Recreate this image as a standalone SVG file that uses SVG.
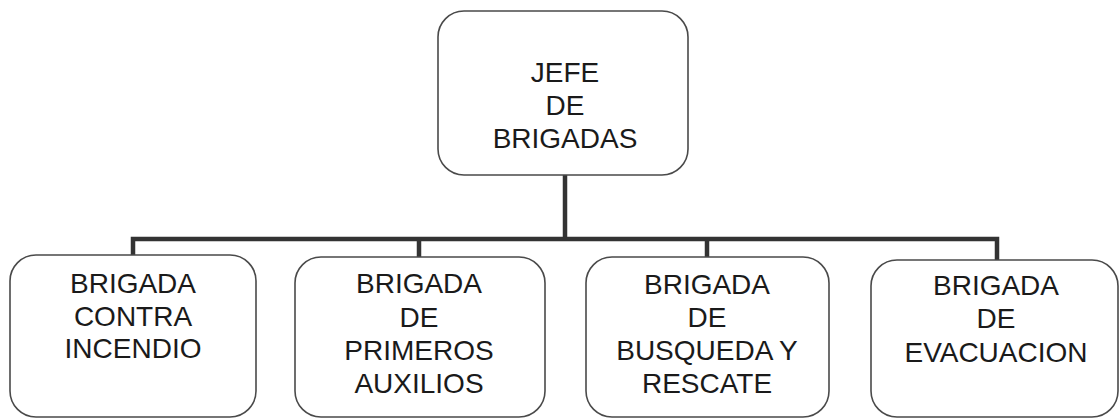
<svg xmlns="http://www.w3.org/2000/svg" width="1120" height="419" viewBox="0 0 1120 419">
<style>
.box{fill:#fff;stroke:#4a4a4a;stroke-width:1.6}
.t{font-family:"Liberation Sans",Arial,sans-serif;font-size:28px;fill:#1a1a1a;text-anchor:middle}
.c{fill:none;stroke:#333;stroke-width:4.5;stroke-linejoin:miter}
</style>
<rect width="1120" height="419" fill="#fff"/>
<g id="connectors">
<path class="c" d="M565,175 V239"/>
<path class="c" d="M133,256 V239 H997 V260"/>
<path class="c" d="M419,239 V257"/>
<path class="c" d="M707,239 V257"/>
</g>
<g id="jefe">
<rect class="box" x="438" y="11" width="250" height="164" rx="26"/>
<text class="t" x="565" y="82">JEFE</text>
<text class="t" x="565" y="115">DE</text>
<text class="t" x="565" y="148">BRIGADAS</text>
</g>
<g id="incendio">
<rect class="box" x="10" y="255" width="246" height="162" rx="26"/>
<text class="t" x="133" y="293">BRIGADA</text>
<text class="t" x="133" y="326">CONTRA</text>
<text class="t" x="133" y="358">INCENDIO</text>
</g>
<g id="auxilios">
<rect class="box" x="295" y="257" width="250" height="160" rx="26"/>
<text class="t" x="419" y="293">BRIGADA</text>
<text class="t" x="419" y="327">DE</text>
<text class="t" x="419" y="360">PRIMEROS</text>
<text class="t" x="419" y="393">AUXILIOS</text>
</g>
<g id="rescate">
<rect class="box" x="586" y="257" width="243" height="160" rx="26"/>
<text class="t" x="707" y="294">BRIGADA</text>
<text class="t" x="707" y="327">DE</text>
<text class="t" x="707" y="360">BUSQUEDA Y</text>
<text class="t" x="707" y="393">RESCATE</text>
</g>
<g id="evacuacion">
<rect class="box" x="871" y="260" width="247" height="157" rx="26"/>
<text class="t" x="996" y="295">BRIGADA</text>
<text class="t" x="996" y="328">DE</text>
<text class="t" x="996" y="362">EVACUACION</text>
</g>
</svg>
